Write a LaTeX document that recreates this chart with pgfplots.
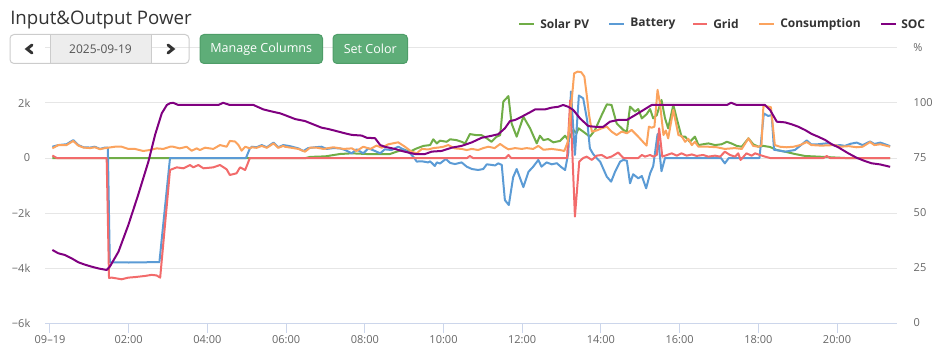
\documentclass[border=0pt]{standalone}
\usepackage{pgfplots}
\pgfplotsset{compat=1.18}
\usepackage{fontspec}
\setmainfont{Open Sans}
\definecolor{cPV}{HTML}{70AD47}
\definecolor{cBat}{HTML}{5B9BD5}
\definecolor{cGrid}{HTML}{F26B6B}
\definecolor{cCons}{HTML}{FBA35E}
\definecolor{cSOC}{HTML}{800080}
\definecolor{gridc}{HTML}{E6E6E6}
\definecolor{axisc}{HTML}{CCD6EB}
\definecolor{lab}{HTML}{666666}
\definecolor{btn}{HTML}{5EAD78}
\definecolor{btnb}{HTML}{4E9D68}
\definecolor{dark}{HTML}{333333}
\begin{document}
\begin{tikzpicture}
\begin{axis}[
  at={(33.75pt,-242.25pt)}, anchor=south west,
  scale only axis, width=639pt, height=206.25pt,
  xmin=-0.127, xmax=21.525, ymin=-6000, ymax=4000,
  axis x line*=bottom, axis y line*=left,
  x axis line style={-, draw=axisc, line width=0.75pt},
  y axis line style={draw=none},
  xtick={0,2,...,20},
  xticklabels={09–19,02:00,04:00,06:00,08:00,10:00,12:00,14:00,16:00,18:00,20:00},
  ytick={-6000,-4000,-2000,0,2000,4000},
  yticklabels={−6k,−4k,−2k,0,2k,{}},
  ymajorgrids, major grid style={draw=gridc, line width=0.75pt},
  tick align=outside, major tick length=7.5pt,
  xtick style={draw=axisc, line width=0.75pt},
  ytick style={draw=none},
  tick label style={font=\fontsize{8.25}{10}\selectfont, text=lab},
  xticklabel style={yshift=1.8pt},
  every axis plot/.append style={line width=1.5pt, line join=round, mark=none},
]
% Solar PV
\addplot[cPV] coordinates {
(0.06,0)(6.50,0)(6.61,40)(7.00,60)(7.37,145)(7.67,170)(8.05,145)(8.64,145)(8.81,230)(8.98,310)
(9.15,230)(9.32,350)(9.49,440)(9.66,470)(9.74,680)(9.83,530)(9.91,630)(10.08,590)(10.17,680)(10.33,650)
(10.46,590)(10.55,530)(10.67,870)(10.84,830)(10.97,830)(11.10,715)(11.22,590)(11.35,775)(11.44,830)(11.52,2050)
(11.65,2250)(11.73,1260)(11.86,775)(12.03,1500)(12.20,1080)(12.37,530)(12.45,810)(12.54,650)(12.66,690)(12.79,570)
(12.96,620)(13.09,810)(13.17,650)(13.30,1020)(13.38,900)(13.43,1080)(13.55,960)(13.72,775)(13.85,1020)(14.02,1560)
(14.15,1950)(14.27,1930)(14.40,1260)(14.57,1020)(14.66,950)(14.74,1870)(14.87,1690)(14.95,1780)(15.04,1440)(15.16,1590)
(15.25,1780)(15.33,1440)(15.42,1560)(15.54,2110)(15.63,1440)(15.71,1080)(15.84,1930)(15.97,1200)(16.05,775)(16.14,775)
(16.26,590)(16.39,775)(16.48,470)(16.60,500)(16.73,530)(16.90,470)(17.07,500)(17.20,590)(17.32,530)(17.45,440)
(17.58,410)(17.75,715)(17.87,500)(18.00,410)(18.13,440)(18.30,400)(18.47,290)(18.68,230)(18.93,145)(19.19,73)
(19.52,50)(19.86,25)(20.20,0)(21.35,0)};
% Battery
\addplot[cBat] coordinates {
(0.06,410)(0.21,470)(0.42,500)(0.59,650)(0.72,470)(0.85,390)(1.02,380)(1.14,410)(1.27,330)(1.40,380)
(1.47,380)(1.52,-3790)(2.00,-3800)(2.50,-3790)(2.78,-3790)(3.05,0)(4.98,0)(5.08,350)(5.13,410)(5.25,390)
(5.38,470)(5.51,390)(5.68,560)(5.80,390)(5.93,470)(6.10,430)(6.31,350)(6.44,255)(6.56,360)(6.73,390)
(6.90,410)(7.03,330)(7.20,360)(7.37,350)(7.50,290)(7.67,170)(7.79,315)(7.96,170)(8.09,350)(8.26,255)
(8.39,170)(8.51,315)(8.68,290)(8.85,410)(9.00,300)(9.15,170)(9.25,20)(9.32,-130)(9.45,-120)(9.61,-160)
(9.66,-120)(9.78,-290)(9.83,-160)(9.91,-200)(10.06,-35)(10.17,-180)(10.29,-220)(10.46,-160)(10.59,-315)(10.72,-400)
(10.88,-436)(11.01,-400)(11.10,-230)(11.22,-250)(11.31,-270)(11.39,-195)(11.48,-250)(11.56,-1530)(11.66,-1710)(11.77,-700)
(11.86,-400)(12.03,-1060)(12.16,-500)(12.28,-315)(12.41,-70)(12.49,-315)(12.62,-160)(12.75,-230)(12.88,-190)(13.00,-340)
(13.09,-436)(13.17,170)(13.24,2420)(13.34,110)(13.44,2270)(13.55,2170)(13.65,1380)(13.72,350)(13.80,150)(13.89,0)
(13.98,-130)(14.15,-680)(14.26,-860)(14.36,-500)(14.49,-130)(14.57,-70)(14.66,-100)(14.74,-920)(14.82,-590)(14.95,-740)
(15.04,-655)(15.15,-1100)(15.25,-560)(15.33,-290)(15.44,870)(15.54,-480)(15.63,0)(17.05,0)(17.15,-195)(17.25,0)
(18.03,0)(18.14,1620)(18.25,1530)(18.34,1560)(18.40,300)(18.55,265)(18.68,230)(18.93,290)(19.06,440)(19.23,640)
(19.35,490)(19.52,500)(19.78,540)(19.95,450)(20.08,470)(20.20,440)(20.35,520)(20.50,560)(20.65,470)(20.84,600)
(20.95,510)(21.10,560)(21.22,500)(21.35,430)};
% Grid
\addplot[cGrid] coordinates {
(0.06,90)(0.17,0)(1.44,0)(1.50,-4360)(1.57,-4350)(1.70,-4380)(1.82,-4410)(1.99,-4350)(2.16,-4330)(2.41,-4290)
(2.58,-4250)(2.71,-4270)(2.80,-4350)(3.05,-436)(3.22,-340)(3.39,-375)(3.56,-255)(3.64,-340)(3.77,-255)(3.90,-375)
(4.15,-340)(4.32,-255)(4.49,-412)(4.57,-618)(4.74,-556)(4.83,-340)(4.96,-436)(5.00,-290)(5.08,0)(10.60,0)
(10.67,73)(10.75,0)(11.58,0)(11.65,110)(11.72,0)(13.14,0)(13.22,2100)(13.34,-2130)(13.45,-130)(13.55,0)
(13.64,50)(13.77,-70)(13.89,85)(14.02,110)(14.15,0)(14.27,50)(14.44,200)(14.57,0)(14.95,0)(15.04,110)
(15.12,50)(15.25,110)(15.33,50)(15.42,110)(15.48,1080)(15.56,50)(15.63,85)(15.80,170)(15.93,85)(16.05,170)
(16.18,85)(16.31,130)(16.43,75)(16.60,110)(16.73,50)(16.90,85)(17.03,50)(17.15,230)(17.28,110)(17.41,50)
(17.49,170)(17.55,-70)(17.70,170)(17.83,85)(17.92,170)(18.04,110)(18.17,50)(18.30,0)(19.66,0)(19.74,73)
(19.82,0)(21.35,0)};
% Consumption
\addplot[cCons] coordinates {
(0.06,350)(0.21,470)(0.42,470)(0.59,620)(0.72,450)(0.85,380)(1.02,360)(1.14,390)(1.27,320)(1.40,360)
(1.48,375)(1.65,410)(1.82,410)(1.99,330)(2.16,330)(2.37,255)(2.54,290)(2.71,350)(2.88,330)(3.05,410)
(3.13,410)(3.30,350)(3.47,410)(3.60,265)(3.73,350)(3.81,290)(3.94,375)(4.15,330)(4.32,470)(4.49,410)
(4.57,620)(4.70,600)(4.79,470)(4.87,265)(4.96,410)(5.08,350)(5.13,390)(5.25,370)(5.38,440)(5.51,370)
(5.68,530)(5.80,370)(5.93,440)(5.97,410)(6.31,330)(6.48,230)(6.61,375)(6.78,375)(6.95,330)(7.20,390)
(7.46,330)(7.67,350)(7.79,255)(7.96,410)(8.14,330)(8.30,450)(8.43,375)(8.60,500)(8.85,570)(9.02,410)
(9.19,230)(9.32,170)(9.45,330)(9.61,310)(9.74,360)(9.87,380)(10.00,410)(10.12,470)(10.29,350)(10.46,330)
(10.59,290)(10.72,330)(10.88,290)(11.01,360)(11.14,410)(11.30,360)(11.44,510)(11.55,400)(11.65,315)(11.82,360)
(11.99,330)(12.11,360)(12.28,330)(12.41,440)(12.54,300)(12.75,330)(12.96,290)(13.07,255)(13.16,590)(13.24,1810)
(13.32,3080)(13.41,3140)(13.50,3120)(13.58,2960)(13.64,2290)(13.70,1560)(13.77,960)(13.89,1000)(14.02,1080)(14.15,1140)
(14.27,960)(14.40,835)(14.53,960)(14.66,900)(14.78,1020)(14.95,775)(15.08,570)(15.16,450)(15.22,1140)(15.29,1100)
(15.36,1140)(15.44,2480)(15.50,1990)(15.59,835)(15.65,1000)(15.71,715)(15.84,1750)(15.97,835)(16.05,800)(16.14,590)
(16.22,700)(16.31,470)(16.39,590)(16.48,410)(16.73,410)(16.95,390)(17.15,330)(17.40,360)(17.58,330)(17.75,715)
(17.87,440)(18.00,410)(18.08,450)(18.13,1900)(18.32,1850)(18.42,470)(18.55,410)(18.72,390)(18.90,410)(19.06,470)
(19.23,580)(19.35,470)(19.60,450)(19.95,470)(20.08,410)(20.30,430)(20.50,390)(20.65,410)(20.84,580)(20.95,470)
(21.10,500)(21.35,410)};
\end{axis}
\begin{axis}[
  at={(33.75pt,-242.25pt)}, anchor=south west,
  scale only axis, width=639pt, height=206.25pt,
  xmin=-0.127, xmax=21.525, ymin=0, ymax=125,
  axis x line=none, axis y line*=right,
  y axis line style={draw=none},
  ytick={0,25,50,75,100},
  tick align=outside, major tick length=7.5pt,
  ytick style={draw=none},
  /pgf/number format/assume math mode=true,
  tick label style={font=\fontsize{8.25}{10}\selectfont, text=lab},
  yticklabel style={xshift=1.5pt},
  every axis plot/.append style={line width=1.5pt, line join=round, mark=none},
]
\addplot[cSOC] coordinates {
(0.06,33.2)(0.21,31.7)(0.38,30.9)(0.55,29.4)(0.72,27.6)(0.89,26.5)(1.06,25.6)(1.23,24.8)(1.44,24.1)(1.52,25.6)
(1.74,32.4)(1.99,44.5)(2.24,58.2)(2.50,73.3)(2.67,85.5)(2.84,95.3)(2.97,99.1)(3.05,99.9)(3.13,100.1)(3.26,99.1)
(4.28,99.1)(4.40,100.1)(4.57,99.1)(5.17,99.1)(5.42,97.1)(5.67,96.0)(5.85,95.3)(5.97,94.5)(6.23,92.7)(6.48,91.8)
(6.73,90.0)(6.90,88.8)(7.07,88.2)(7.33,87.0)(7.50,86.2)(7.67,85.5)(7.92,85.2)(8.05,84.2)(8.26,84.0)(8.39,80.9)
(8.51,80.1)(8.77,79.1)(8.94,78.2)(9.15,77.3)(9.28,76.8)(9.53,76.8)(9.70,77.9)(9.95,78.2)(10.21,79.7)(10.46,80.5)
(10.72,82.1)(10.97,84.2)(11.22,85.1)(11.39,85.8)(11.56,88.5)(11.69,91.8)(11.82,92.3)(11.99,93.8)(12.20,95.8)(12.33,97.1)
(12.58,97.1)(12.75,97.9)(12.92,98.3)(13.04,99.1)(13.17,98.3)(13.30,96.8)(13.47,93.0)(13.68,89.5)(13.85,89.2)(14.06,89.2)
(14.23,91.5)(14.44,92.3)(14.66,92.3)(14.87,94.5)(15.08,96.8)(15.29,99.1)(17.20,99.1)(17.31,100.1)(17.45,99.1)(18.17,99.1)
(18.30,96.8)(18.47,91.5)(18.68,91.2)(18.85,90.3)(19.02,89.2)(19.19,87.7)(19.36,85.9)(19.52,84.7)(19.70,83.2)(19.87,81.2)
(20.03,79.9)(20.29,77.1)(20.50,75.1)(20.71,73.6)(20.88,72.6)(21.09,72.1)(21.35,71.0)};
\end{axis}
\begin{scope}[x=0.75pt, y=-0.75pt]
  % title
  \node[anchor=base west, inner sep=0, text=dark, font=\fontsize{14}{16}\selectfont] at (10,25) {Input\&Output Power};
  % date group
  \fill[gridc!70!white] (50,34.5) rectangle (151,63.5);
  \draw[draw=black!20, line width=0.75pt, rounded corners=3] (10,34.5) rectangle (189,63.5);
  \draw[draw=black!20, line width=0.75pt] (50,34.5) -- (50,63.5) (151,34.5) -- (151,63.5);
  \draw[dark, line width=2.2pt, line cap=round, line join=miter] (32,45) -- (27,49) -- (32,53);
  \draw[dark, line width=2.2pt, line cap=round, line join=miter] (168,45) -- (173,49) -- (168,53);
  \node[text=black!67, font=\fontsize{9}{11}\selectfont] at (100.5,49) {2025-09-19};
  % buttons
  \draw[fill=btn, draw=btnb, line width=0.75pt, rounded corners=3] (200,34.5) rectangle (322.5,63.5);
  \node[text=white, font=\fontsize{9.4}{11}\selectfont] at (261.25,49) {Manage Columns};
  \draw[fill=btn, draw=btnb, line width=0.75pt, rounded corners=3] (333,34.5) rectangle (407.5,63.5);
  \node[text=white, font=\fontsize{9.4}{11}\selectfont] at (370.25,49) {Set Color};
  % legend
  \foreach \xa/\xb/\xt/\col/\txt in {519/534/540/cPV/Solar PV, 609/624/630/cBat/Battery, 693/707/713/cGrid/Grid, 759/774/780/cCons/Consumption, 881/896/901/cSOC/SOC}{
    \draw[\col, line width=1.5pt] (\xa,24) -- (\xb,24);
    \node[anchor=west, inner sep=0, text=dark, font=\bfseries\fontsize{9}{11}\selectfont] at (\xt,24) {\txt};
  }
  % percent label
  \node[anchor=west, inner sep=0, text=lab, font=\fontsize{8.25}{10}\selectfont] at (913,48) {\%};
\end{scope}
\pgfresetboundingbox
\useasboundingbox (0,0) rectangle (708pt,-270pt);
\end{tikzpicture}
\end{document}
